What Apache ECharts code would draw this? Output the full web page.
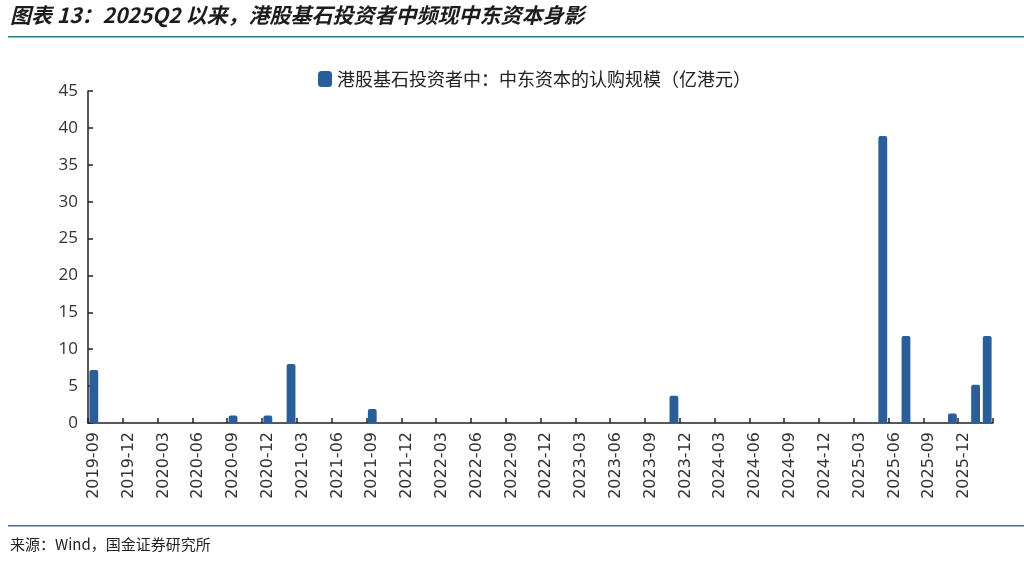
<!DOCTYPE html>
<html>
<head>
<meta charset="utf-8">
<script src="https://cdn.jsdelivr.net/npm/echarts@6/dist/echarts.min.js"></script>
<style>
html,body{margin:0;padding:0;background:#fff;}
#c{width:1024px;height:563px;}
</style>
</head>
<body>
<div id="c"></div>
<script>
// Months from 2019-09 to 2026-02
const categories = [
 '2019-09','2019-10','2019-11','2019-12',
 '2020-01','2020-02','2020-03','2020-04','2020-05','2020-06','2020-07','2020-08','2020-09','2020-10','2020-11','2020-12',
 '2021-01','2021-02','2021-03','2021-04','2021-05','2021-06','2021-07','2021-08','2021-09','2021-10','2021-11','2021-12',
 '2022-01','2022-02','2022-03','2022-04','2022-05','2022-06','2022-07','2022-08','2022-09','2022-10','2022-11','2022-12',
 '2023-01','2023-02','2023-03','2023-04','2023-05','2023-06','2023-07','2023-08','2023-09','2023-10','2023-11','2023-12',
 '2024-01','2024-02','2024-03','2024-04','2024-05','2024-06','2024-07','2024-08','2024-09','2024-10','2024-11','2024-12',
 '2025-01','2025-02','2025-03','2025-04','2025-05','2025-06','2025-07','2025-08','2025-09','2025-10','2025-11','2025-12',
 '2026-01','2026-02'
];
// Non-zero subscription amounts (亿港元) by month
const subscriptionMonths = ['2019-09','2020-09','2020-12','2021-02','2021-09','2023-11','2025-05','2025-07','2025-11','2026-01','2026-02'];
const subscriptionValues = [7.2, 1.0, 1.0, 8.0, 1.9, 3.7, 38.9, 11.8, 1.3, 5.2, 11.8];
const yTicks = [0,5,10,15,20,25,30,35,40,45];
const seriesName = '港股基石投资者中：中东资本的认购规模（亿港元）';

const values = categories.map(m => {
  const i = subscriptionMonths.indexOf(m);
  return i >= 0 ? subscriptionValues[i] : 0;
});

const chart = echarts.init(document.getElementById('c'));
chart.setOption({
  animation: false,
  backgroundColor: '#ffffff',
  graphic: [
    {type:'text', left: 10, top: 5, style:{text:'图表 13：2025Q2 以来，港股基石投资者中频现中东资本身影', font:'italic bold 21px "Noto Sans CJK SC", sans-serif', fill:'#1c1c1c'}},
    {type:'rect', shape:{x:8, y:36, width:1016, height:1.5}, style:{fill:'#2d7a8a'}},
    {type:'rect', shape:{x:8, y:525, width:1016, height:1.5}, style:{fill:'#2d7a8a'}},
    {type:'text', left: 10, top: 537, style:{text:'来源：Wind，国金证券研究所', font:'15px "Noto Sans CJK SC", sans-serif', fill:'#222'}}
  ],
  legend: {
    top: 65, left: 313,
    itemWidth: 14, itemHeight: 16, itemGap: 6,
    textStyle: {fontFamily:'"Noto Sans CJK SC", sans-serif', fontSize: 18, color:'#222'},
    data: [seriesName]
  },
  grid: {left: 88, right: 31, top: 91, bottom: 140, containLabel: false},
  xAxis: {
    type: 'category',
    data: categories,
    boundaryGap: true,
    axisLine: {lineStyle:{color:'#222', width:1.5}},
    axisTick: {show:true, inside:true, interval: 2, length: 5, lineStyle:{color:'#222', width:1.5}},
    axisLabel: {interval: 2, rotate: 90, fontFamily:'"DejaVu Sans", sans-serif', fontSize: 16, color:'#333', margin: 9}
  },
  yAxis: {
    type: 'value',
    min: 0, max: 45, interval: 5,
    axisLine: {show:true, lineStyle:{color:'#222', width:1.5}},
    axisTick: {show:true, inside:true, length: 5, lineStyle:{color:'#222', width:1.5}},
    splitLine: {show:false},
    axisLabel: {fontFamily:'"Open Sans", sans-serif', fontSize: 17, color:'#333', margin: 10,
      formatter: v => yTicks.includes(v) ? String(v) : ''}
  },
  series: [{
    name: seriesName,
    type: 'bar',
    data: values,
    barWidth: '76%',
    itemStyle: {color:'#2a5e9b', borderRadius:[2,2,0,0]}
  }]
});
</script>
</body>
</html>
